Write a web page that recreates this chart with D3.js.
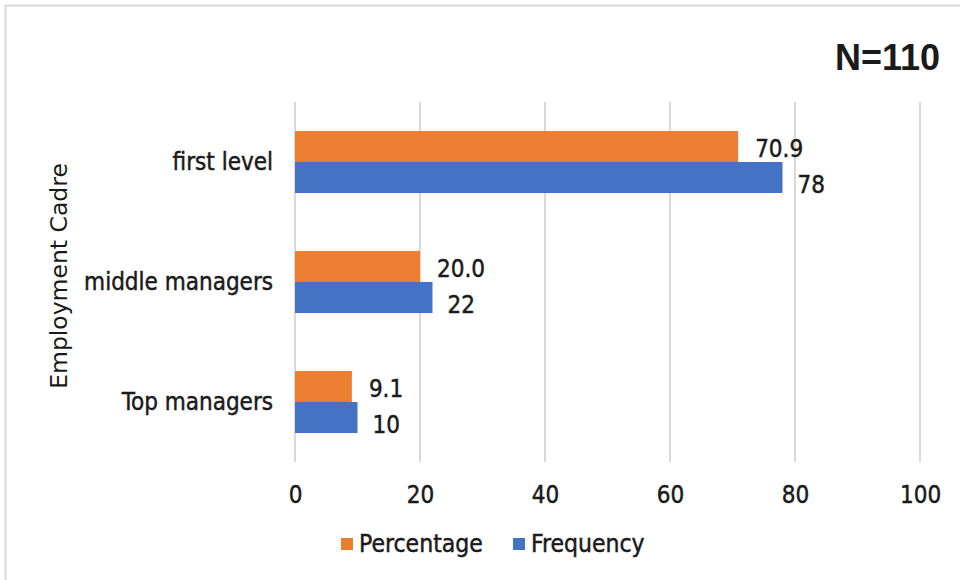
<!DOCTYPE html>
<html>
<head>
<meta charset="utf-8">
<script src="https://cdn.jsdelivr.net/npm/d3@7"></script>
<style>
  html, body { margin: 0; padding: 0; background: #fff; }
  svg text { font-family: "DejaVu Sans Condensed", "DejaVu Sans", Verdana, sans-serif; fill: #1a1a1a; }
  .heavy { stroke: #1a1a1a; stroke-width: 0.45px; paint-order: stroke; }
</style>
</head>
<body>
<svg id="chart" width="960" height="580"></svg>
<script>
// Employment cadre of respondents (N=110)
const categories = ["first level", "middle managers", "Top managers"];
const seriesNames = ["Percentage", "Frequency"];
const percentage = [70.9, 20.0, 9.1];
const frequency = [78, 22, 10];
const xTicks = [0, 20, 40, 60, 80, 100];
const colors = ["#ED7D31", "#4472C4"];

const svg = d3.select("#chart");

// outer frame
svg.append("path")
  .attr("d", "M5.5,580 L5.5,5.5 L960,5.5")
  .attr("fill", "none")
  .attr("stroke", "#d9d9d9")
  .attr("stroke-width", 2);

const plot = { left: 295, right: 920, top: 102, bottom: 462 };

const x = d3.scaleLinear().domain([0, 100]).range([plot.left, plot.right]);
const y = d3.scaleBand().domain(categories).range([plot.top, plot.bottom]).paddingInner(0.483).paddingOuter(0.2415);
const sub = d3.scaleBand().domain(seriesNames).range([0, y.bandwidth()]);

// gridlines
svg.append("g")
  .selectAll("line")
  .data(xTicks)
  .join("line")
  .attr("x1", d => x(d)).attr("x2", d => x(d))
  .attr("y1", plot.top).attr("y2", plot.bottom)
  .attr("stroke", "#d9d9d9")
  .attr("stroke-width", 2);

// x axis tick labels
const xAxis = d3.axisBottom(x).tickValues(xTicks).tickSize(0).tickPadding(0);
const gx = svg.append("g").attr("transform", `translate(0,${plot.bottom + 41})`).call(xAxis);
gx.select(".domain").remove();
gx.selectAll("text")
  .attr("class", "heavy")
  .attr("font-size", 24)
  .attr("dy", 0)
  .style("font-family", "'DejaVu Sans Condensed', sans-serif");

// y axis category labels
const yAxis = d3.axisLeft(y).tickSize(0).tickPadding(22);
const gy = svg.append("g").attr("transform", `translate(${plot.left},0)`).call(yAxis);
gy.select(".domain").remove();
gy.selectAll("text")
  .attr("class", "heavy")
  .attr("font-size", 24)
  .attr("dy", 0)
  .attr("y", 8)
  .style("font-family", "'DejaVu Sans Condensed', sans-serif");

// bars
const rows = categories.map((c, i) => ({ cat: c, vals: [percentage[i], frequency[i]] }));
const groups = svg.append("g").selectAll("g")
  .data(rows)
  .join("g")
  .attr("transform", d => `translate(0,${y(d.cat)})`);

groups.selectAll("rect")
  .data(d => d.vals.map((v, k) => ({ key: seriesNames[k], v, k })))
  .join("rect")
  .attr("x", x(0))
  .attr("y", d => sub(d.key))
  .attr("width", d => x(d.v) - x(0))
  .attr("height", sub.bandwidth())
  .attr("fill", d => colors[d.k]);

// value labels
groups.selectAll("text.val")
  .data(d => d.vals.map((v, k) => ({ key: seriesNames[k], v, k })))
  .join("text")
  .attr("class", "val heavy")
  .attr("x", d => x(d.v) + (d.k === 0 ? 17 : 15))
  .attr("y", d => sub(d.key) + sub.bandwidth() / 2 + (d.k === 0 ? 11 : 16))
  .attr("font-size", 24)
  .text(d => d.k === 0 ? d.v.toFixed(1) : d3.format("d")(d.v));

// axis title
svg.append("text")
  .attr("transform", "translate(67,276) rotate(-90)")
  .attr("text-anchor", "middle")
  .attr("font-size", 23.5)
  .style("font-family", "'DejaVu Sans', sans-serif")
  .text("Employment Cadre");

// sample size note
svg.append("text")
  .attr("x", 940).attr("y", 70)
  .attr("text-anchor", "end")
  .attr("font-size", 36)
  .attr("font-weight", "bold")
  .style("font-family", "'Liberation Sans', Arial, sans-serif")
  .text("N=110");

// legend
const legend = svg.append("g").attr("transform", "translate(341,544)");
const legendX = [0, 172];
seriesNames.forEach((name, i) => {
  const item = legend.append("g").attr("transform", `translate(${legendX[i]},0)`);
  item.append("rect").attr("x", 0).attr("y", -6).attr("width", 12).attr("height", 12).attr("fill", colors[i]);
  item.append("text").attr("class", "heavy").attr("x", 18).attr("y", 8).attr("font-size", 24.5).text(name);
});
</script>
</body>
</html>
